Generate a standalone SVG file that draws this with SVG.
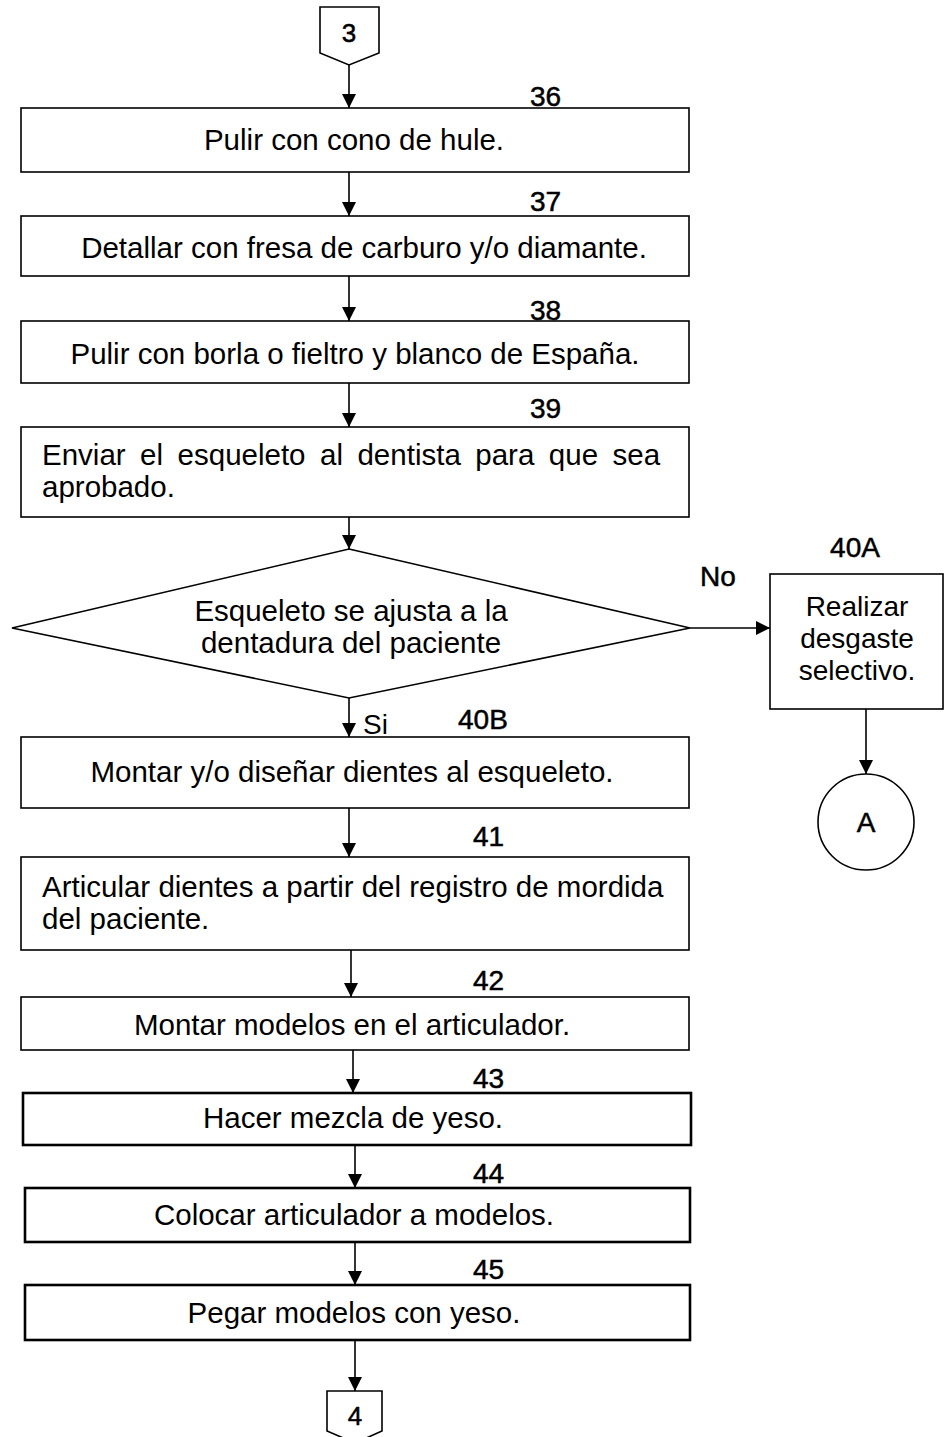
<svg xmlns="http://www.w3.org/2000/svg" width="944" height="1437" viewBox="0 0 944 1437">
<style>
.b{fill:#fff;stroke:#000;stroke-width:1.6}
.bt{fill:#fff;stroke:#000;stroke-width:2.6}
text{font-family:"Liberation Sans",Arial,sans-serif;font-size:29.5px;fill:#000}
.c{text-anchor:middle}
.n{font-size:28px;stroke:#000;stroke-width:0.5}
.s{font-size:28px}
.l{stroke:#000;stroke-width:1.6;fill:none}
</style>
<defs>
<marker id="ah" markerUnits="userSpaceOnUse" markerWidth="14" markerHeight="16" refX="14" refY="7" orient="auto">
<path d="M0,0 L14,7 L0,14 Z" fill="#000"/>
</marker>
</defs>
<rect width="944" height="1437" fill="#fff"/>
<g id="connectors">
<line class="l" x1="349" y1="65" x2="349" y2="108" marker-end="url(#ah)"/>
<line class="l" x1="349" y1="172" x2="349" y2="216" marker-end="url(#ah)"/>
<line class="l" x1="349" y1="276" x2="349" y2="321" marker-end="url(#ah)"/>
<line class="l" x1="349" y1="383" x2="349" y2="427" marker-end="url(#ah)"/>
<line class="l" x1="349" y1="517" x2="349" y2="549" marker-end="url(#ah)"/>
<line class="l" x1="690" y1="628" x2="770" y2="628" marker-end="url(#ah)"/>
<line class="l" x1="866" y1="709" x2="866" y2="774" marker-end="url(#ah)"/>
<line class="l" x1="349" y1="698" x2="349" y2="737" marker-end="url(#ah)"/>
<line class="l" x1="349" y1="808" x2="349" y2="857" marker-end="url(#ah)"/>
<line class="l" x1="351" y1="950" x2="351" y2="997" marker-end="url(#ah)"/>
<line class="l" x1="353" y1="1050" x2="353" y2="1093" marker-end="url(#ah)"/>
<line class="l" x1="355" y1="1145" x2="355" y2="1188" marker-end="url(#ah)"/>
<line class="l" x1="355" y1="1242" x2="355" y2="1285" marker-end="url(#ah)"/>
<line class="l" x1="355" y1="1340" x2="355" y2="1391" marker-end="url(#ah)"/>
<text class="n" x="700" y="586">No</text>
<text class="s" x="363" y="734">Si</text>
</g>
<g id="conn3">
<polygon class="b" points="320,7 379,7 379,53 349,65 320,53"/>
<text class="c n" x="349" y="42" style="font-size:26px">3</text>
</g>
<g id="n36">
<rect class="b" x="21" y="108" width="668" height="64"/>
<text class="n" x="530" y="106">36</text>
<text class="c" x="354" y="150">Pulir con cono de hule.</text>
</g>
<g id="n37">
<rect class="b" x="21" y="216" width="668" height="60"/>
<text class="n" x="530" y="211">37</text>
<text class="c" x="364" y="258">Detallar con fresa de carburo y/o diamante.</text>
</g>
<g id="n38">
<rect class="b" x="21" y="321" width="668" height="62"/>
<text class="n" x="530" y="320">38</text>
<text class="c" x="355" y="364">Pulir con borla o fieltro y blanco de España.</text>
</g>
<g id="n39">
<rect class="b" x="21" y="427" width="668" height="90"/>
<text class="n" x="530" y="418">39</text>
<text x="42" y="465" word-spacing="6.3">Enviar el esqueleto al dentista para que sea</text>
<text x="42" y="497">aprobado.</text>
</g>
<g id="d40">
<polygon class="b" points="349,549 690,628 349,698 12,628"/>
<text class="c" x="351" y="621">Esqueleto se ajusta a la</text>
<text class="c" x="351" y="653">dentadura del paciente</text>
</g>
<g id="n40A">
<rect class="b" x="770" y="574" width="173" height="135"/>
<text class="c n" x="855" y="557">40A</text>
<text class="c s" x="857" y="616">Realizar</text>
<text class="c s" x="857" y="648">desgaste</text>
<text class="c s" x="857" y="680">selectivo.</text>
</g>
<g id="connA">
<circle class="b" cx="866" cy="822" r="48"/>
<text class="c n" x="866" y="832">A</text>
</g>
<g id="n40B">
<rect class="b" x="21" y="737" width="668" height="71"/>
<text class="n" x="458" y="729">40B</text>
<text class="c" x="352" y="782">Montar y/o diseñar dientes al esqueleto.</text>
</g>
<g id="n41">
<rect class="b" x="21" y="857" width="668" height="93"/>
<text class="n" x="473" y="846">41</text>
<text x="42" y="897">Articular dientes a partir del registro de mordida</text>
<text x="42" y="929">del paciente.</text>
</g>
<g id="n42">
<rect class="b" x="21" y="997" width="668" height="53"/>
<text class="n" x="473" y="990">42</text>
<text class="c" x="352" y="1035">Montar modelos en el articulador.</text>
</g>
<g id="n43">
<rect class="bt" x="23" y="1093" width="668" height="52"/>
<text class="n" x="473" y="1088">43</text>
<text class="c" x="353" y="1128">Hacer mezcla de yeso.</text>
</g>
<g id="n44">
<rect class="bt" x="25" y="1188" width="665" height="54"/>
<text class="n" x="473" y="1183">44</text>
<text class="c" x="354" y="1225">Colocar articulador a modelos.</text>
</g>
<g id="n45">
<rect class="bt" x="25" y="1285" width="665" height="55"/>
<text class="n" x="473" y="1279">45</text>
<text class="c" x="354" y="1323">Pegar modelos con yeso.</text>
</g>
<g id="conn4">
<polygon class="b" points="327,1391 382,1391 382,1431 355,1443 327,1431"/>
<text class="c n" x="355" y="1425" style="font-size:26px">4</text>
</g>
</svg>
